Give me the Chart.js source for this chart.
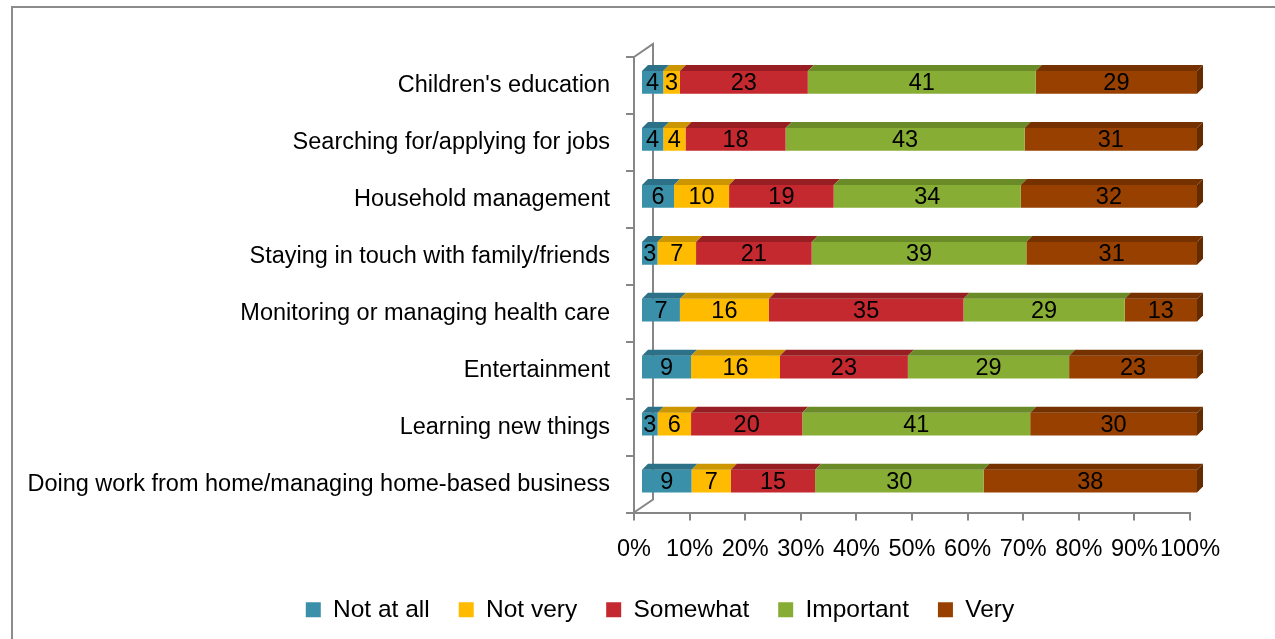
<!DOCTYPE html>
<html>
<head>
<meta charset="utf-8">
<script src="https://cdn.jsdelivr.net/npm/chart.js@4/dist/chart.umd.min.js"></script>
<style>
  body { margin: 0; background: #fff; }
  #wrap { width: 1275px; height: 639px; }
</style>
</head>
<body>
<div id="wrap"><canvas id="chart" width="1275" height="639"></canvas></div>
<script>
// categories, top to bottom
const categories = [
  "Children's education",
  "Searching for/applying for jobs",
  "Household management",
  "Staying in touch with family/friends",
  "Monitoring or managing health care",
  "Entertainment",
  "Learning new things",
  "Doing work from home/managing home-based business"
];

const seriesNames = ["Not at all", "Not very", "Somewhat", "Important", "Very"];
const notAtAll  = [4, 4, 6, 3, 7, 9, 3, 9];
const notVery   = [3, 4, 10, 7, 16, 16, 6, 7];
const somewhat  = [23, 18, 19, 21, 35, 23, 20, 15];
const important = [41, 43, 34, 39, 29, 29, 41, 30];
const very      = [29, 31, 32, 31, 13, 23, 30, 38];

const tickValues = [0, 10, 20, 30, 40, 50, 60, 70, 80, 90, 100];

const frontColors = ["#3a90a9", "#ffbb00", "#c3292e", "#88ad34", "#974000"];
const topColors   = ["#2c7187", "#cc9600", "#971f24", "#6b8a28", "#753100"];
const sideColor   = "#642a00";

const FONT = "'Liberation Sans', Arial, sans-serif";
const allSeries = [notAtAll, notVery, somewhat, important, very];

// 100% stacked: each row is normalised to its total
const totals = categories.map((_, i) => allSeries.reduce((s, arr) => s + arr[i], 0));

const datasets = allSeries.map((arr, k) => ({
  label: seriesNames[k],
  data: arr.map((v, i) => (v / totals[i]) * 100),
  raw: arr,
  backgroundColor: frontColors[k],
  borderWidth: 0,
  barPercentage: 0.8,
  categoryPercentage: 0.5
}));

const SHIFT_X = 7, SHIFT_Y = -3, DEPTH = 6;
const LEGEND_SHIFT = 65;

const framePlugin = {
  id: "frame",
  afterLayout(chart) {
    // legend sits a little right of the page centre
    if (chart.legend) {
      chart.legend.left += LEGEND_SHIFT;
      chart.legend.right += LEGEND_SHIFT;
    }
  },
  beforeDraw(chart) {
    const ctx = chart.ctx;
    const a = chart.chartArea;
    ctx.save();
    ctx.fillStyle = "#fff";
    ctx.fillRect(0, 0, chart.width, chart.height);
    ctx.strokeStyle = "#8c8c8c";
    ctx.lineWidth = 2;
    ctx.beginPath();
    ctx.moveTo(12, chart.height);
    ctx.lineTo(12, 7);
    ctx.lineTo(chart.width, 7);
    ctx.stroke();
    // back wall of the 3D plot
    ctx.strokeStyle = "#868686";
    ctx.beginPath();
    ctx.moveTo(a.left, a.top);
    ctx.lineTo(a.left + 19, a.top - 13);
    ctx.lineTo(a.left + 19, a.bottom - 13);
    ctx.lineTo(a.left, a.bottom);
    ctx.stroke();
    ctx.restore();
  },
  beforeDatasetsDraw(chart) {
    chart.ctx.save();
    chart.ctx.translate(SHIFT_X, SHIFT_Y);
  },
  afterDatasetsDraw(chart) {
    const ctx = chart.ctx;
    const last = chart.data.datasets.length - 1;
    chart.data.datasets.forEach((ds, k) => {
      const meta = chart.getDatasetMeta(k);
      meta.data.forEach((bar) => {
        const x0 = Math.min(bar.base, bar.x), x1 = Math.max(bar.base, bar.x);
        const y0 = bar.y - bar.height / 2, y1 = bar.y + bar.height / 2;
        ctx.fillStyle = topColors[k];
        ctx.beginPath();
        ctx.moveTo(x0, y0);
        ctx.lineTo(x1, y0);
        ctx.lineTo(x1 + DEPTH, y0 - DEPTH);
        ctx.lineTo(x0 + DEPTH, y0 - DEPTH);
        ctx.closePath();
        ctx.fill();
        if (k === last) {
          ctx.fillStyle = sideColor;
          ctx.beginPath();
          ctx.moveTo(x1, y0);
          ctx.lineTo(x1 + DEPTH, y0 - DEPTH);
          ctx.lineTo(x1 + DEPTH, y1 - DEPTH);
          ctx.lineTo(x1, y1);
          ctx.closePath();
          ctx.fill();
        }
      });
    });
    // value labels
    ctx.fillStyle = "#000";
    ctx.font = "23.5px " + FONT;
    ctx.textAlign = "center";
    ctx.textBaseline = "middle";
    chart.data.datasets.forEach((ds, k) => {
      chart.getDatasetMeta(k).data.forEach((bar, i) => {
        const cx = (bar.base + bar.x) / 2;
        ctx.fillText(String(ds.raw[i]), cx, bar.y + 1);
      });
    });
    ctx.restore();
  }
};

new Chart(document.getElementById("chart"), {
  type: "bar",
  data: { labels: categories, datasets: datasets },
  plugins: [framePlugin],
  options: {
    indexAxis: "y",
    responsive: false,
    animation: false,
    layout: { padding: { top: 57, right: 85, bottom: 7, left: 0 } },
    plugins: {
      legend: {
        position: "bottom",
        labels: {
          boxWidth: 15,
          boxHeight: 15,
          padding: 29,
          color: "#000",
          font: { family: FONT, size: 24.5 }
        }
      },
      tooltip: { enabled: false },
      title: { display: false }
    },
    scales: {
      x: {
        stacked: true,
        min: 0,
        max: 100,
        afterBuildTicks(scale) {
          scale.ticks = tickValues.map((v) => ({ value: v }));
        },
        afterFit(scale) { scale.height = 56; },
        ticks: {
          color: "#000",
          padding: 15,
          maxRotation: 0,
          autoSkip: false,
          font: { family: FONT, size: 23.5 },
          callback: (v) => v + "%"
        },
        grid: { drawOnChartArea: false, drawTicks: true, tickLength: 8, color: "#868686", lineWidth: 2 },
        border: { display: true, color: "#868686", width: 2 }
      },
      y: {
        stacked: true,
        afterFit(scale) { scale.width = 634; },
        ticks: {
          color: "#000",
          padding: 16,
          autoSkip: false,
          font: { family: FONT, size: 23.5 }
        },
        grid: { drawOnChartArea: false, drawTicks: true, tickLength: 8, color: "#868686", lineWidth: 2 },
        border: { display: true, color: "#868686", width: 2 }
      }
    }
  }
});
</script>
</body>
</html>
